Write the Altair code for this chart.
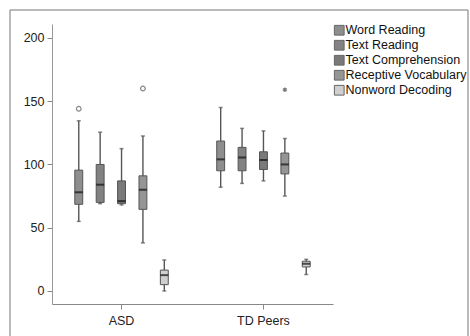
import altair as alt
import pandas as pd

groups = ["ASD"] * 5 + ["TD Peers"] * 5
measure_names = ["Word Reading", "Text Reading", "Text Comprehension",
                 "Receptive Vocabulary", "Nonword Decoding"]
measures = measure_names * 2
whisker_low = [55, 69, 68, 38, 0, 82, 85, 87, 75, 13]
q1 = [68.5, 70, 69, 64.5, 5, 95, 95, 96, 92.5, 19]
median = [78, 84, 71, 80, 12.5, 104, 105.5, 103.5, 100, 21.5]
q3 = [95.5, 100, 87, 91, 16.5, 118.5, 113.5, 110, 109, 23.5]
whisker_high = [134.5, 125.5, 112.5, 122.5, 24.5, 145, 128.5, 126.5, 120.5, 25]

out_groups = ["ASD", "ASD", "TD Peers"]
out_measures = ["Word Reading", "Receptive Vocabulary", "Receptive Vocabulary"]
out_values = [144, 160, 159]
out_kind = ["circle", "circle", "star"]

box_colors = ["#8e8e8e", "#828282", "#7a7a7a", "#959595", "#cfcfcf"]

df = pd.DataFrame({
    "group": groups, "measure": measures, "lo": whisker_low, "q1": q1,
    "med": median, "q3": q3, "hi": whisker_high,
})
odf = pd.DataFrame({"group": out_groups, "measure": out_measures,
                    "value": out_values, "kind": out_kind})

FONT = "Liberation Sans"

xenc = alt.X("group:N", title=None,
             scale=alt.Scale(domain=["ASD", "TD Peers"], paddingInner=0.04, paddingOuter=0.01),
             axis=alt.Axis(labelAngle=0, labelFontSize=12.5, labelColor="#222",
                           labelFont=FONT, domainColor="#888", tickColor="#888",
                           tickSize=5, labelPadding=5))
xoff = alt.XOffset("measure:N", sort=measure_names,
                   scale=alt.Scale(domain=measure_names, paddingInner=0.63, paddingOuter=1))
yscale = alt.Scale(domain=[-10.3, 211], nice=False, zero=False)
yaxis = alt.Axis(values=[0, 50, 100, 150, 200], grid=False, labelFontSize=12.5,
                 labelColor="#222", labelFont=FONT, domainColor="#999",
                 tickColor="#888", tickSize=5, labelPadding=3)

base = alt.Chart(df)

whisk = base.mark_rule(color="#555", strokeWidth=1.4).encode(
    x=xenc, xOffset=xoff,
    y=alt.Y("lo:Q", scale=yscale, axis=yaxis, title=None), y2="hi:Q")

cap_lo = base.mark_tick(color="#555", thickness=1.5, size=4, orient="horizontal").encode(
    x=xenc, xOffset=xoff, y=alt.Y("lo:Q", scale=yscale))
cap_hi = base.mark_tick(color="#555", thickness=1.5, size=4, orient="horizontal").encode(
    x=xenc, xOffset=xoff, y=alt.Y("hi:Q", scale=yscale))

box = base.mark_bar(stroke="#555", strokeWidth=1).encode(
    x=xenc, xOffset=xoff,
    y=alt.Y("q1:Q", scale=yscale), y2="q3:Q",
    color=alt.Color("measure:N", sort=measure_names,
                    scale=alt.Scale(domain=measure_names, range=box_colors),
                    legend=alt.Legend(title=None, orient="none", legendX=281, legendY=0,
                                      symbolType="square", symbolSize=95,
                                      symbolStrokeColor="#666", symbolStrokeWidth=1,
                                      labelFontSize=12.5, labelFont=FONT,
                                      labelColor="#111", labelOffset=0,
                                      rowPadding=0, padding=0,
                                      labelLimit=200)))

med = base.mark_tick(color="#111", thickness=2, size=8, orient="horizontal").encode(
    x=xenc, xOffset=xoff, y=alt.Y("med:Q", scale=yscale))

obase = alt.Chart(odf)
circ = obase.transform_filter(alt.datum.kind == "circle").mark_point(
    shape="circle", filled=False, color="#555", size=22, strokeWidth=1.2).encode(
    x=xenc, xOffset=xoff, y=alt.Y("value:Q", scale=yscale))
star = obase.transform_filter(alt.datum.kind == "star").mark_point(
    shape="M0,-1L0,1M-0.87,-0.5L0.87,0.5M-0.87,0.5L0.87,-0.5",
    filled=False, color="#444", size=20, strokeWidth=1.3).encode(
    x=xenc, xOffset=xoff, y=alt.Y("value:Q", scale=yscale))

frame = alt.Chart(pd.DataFrame({"a": [0]})).mark_rect(
    fill=None, stroke="#777", strokeWidth=1).encode(
    x=alt.value(-42), x2=alt.value(416), y=alt.value(-14), y2=alt.value(330))

chart = alt.layer(frame, whisk, cap_lo, cap_hi, box, med, circ, star).properties(
    width=281, height=280,
    background="white",
    autosize=alt.AutoSizeParams(type="none"),
    padding={"left": 52, "top": 24, "right": 137, "bottom": 32},
).configure_view(strokeWidth=0, stroke="transparent")

chart.save("out.html", embed_options={"renderer": "svg", "actions": False})
